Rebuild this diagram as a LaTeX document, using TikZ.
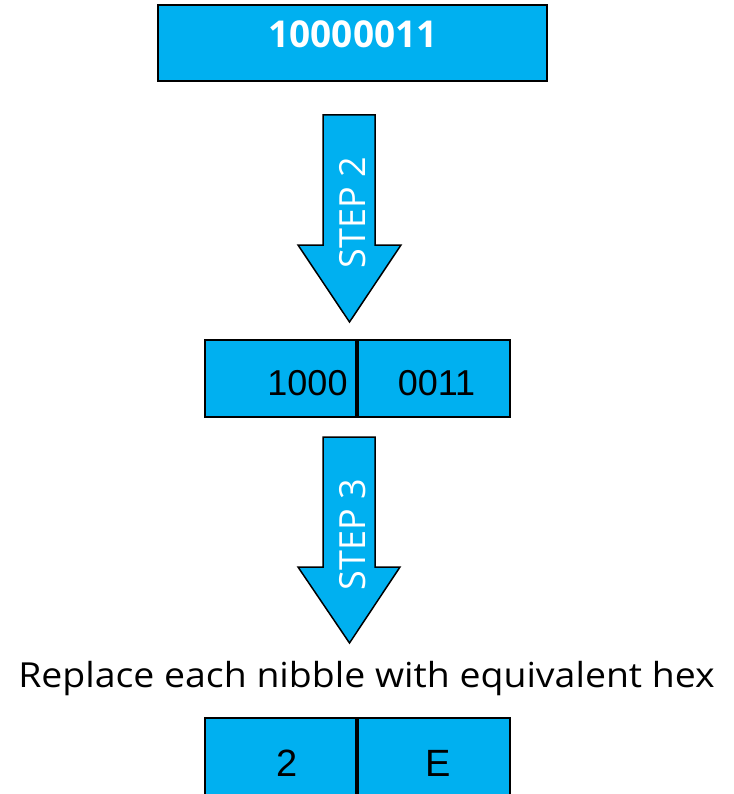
\documentclass[tikz,border=0pt]{standalone}
\usepackage{fontspec}
\setmainfont{Open Sans}
\newfontfamily\arialfont{Liberation Sans}
\usepackage{tikz}
\usetikzlibrary{positioning}
\definecolor{nibblue}{HTML}{00B0F0}
\tikzstyle{cell}=[rectangle, draw=black, fill=nibblue, line width=1.8pt, inner sep=0pt, minimum height=77pt]
\tikzstyle{digits}=[inner sep=0pt, anchor=base, font=\arialfont\fontsize{36}{40}\selectfont]
\tikzstyle{steparrow}=[draw=black, fill=nibblue, line width=1.5pt, line join=miter]
\tikzstyle{steplabel}=[rotate=90, inner sep=0pt, anchor=base, text=white, font=\fontsize{36}{40}\selectfont]

\begin{document}
\begin{tikzpicture}[x=1pt, y=-1pt]
\useasboundingbox (0,0) rectangle (733,794);
%
  \node[cell, line width=2.6pt, minimum width=389pt, minimum height=76pt] (byte) at (352.5,43) {};
  \node[inner sep=0pt, anchor=base, text=white, font=\bfseries\fontsize{37}{40}\selectfont] (bytetxt) at (353,48) {10000011};
%
  \draw[steparrow] (323,115) -- (375,115) -- (375,245) -- (401,245) -- (349.5,322) -- (298,245) -- (323,245) -- cycle;
  \node[steplabel] (step2) at (365,212.5) {STEP 2};
%
  \node[cell, minimum width=151pt] (hi) at (280.5,378.5) {};
  \node[cell, minimum width=152pt] (lo) [right=0pt of hi] {};
  \node[digits] (hitxt) at (307.5,395) {1000};
  \node[digits] (lotxt) at (436.5,395) {0011};
%
  \draw[steparrow] (323,437) -- (375,437) -- (375,567) -- (400,567) -- (349.5,643) -- (298,567) -- (323,567) -- cycle;
  \node[steplabel] (step3) at (365,535) {STEP 3};
%
  \node[inner sep=0pt, anchor=base, xscale=1.085, font=\fontsize{34.5}{40}\selectfont] (rule) at (366.5,687) {Replace each nibble with equivalent hex};
%
  \node[cell, minimum width=151pt, minimum height=84pt] (hexhi) at (280.5,760) {};
  \node[cell, minimum width=152pt, minimum height=84pt] (hexlo) [right=0pt of hexhi] {};
  \node[digits, font=\arialfont\fontsize{38}{40}\selectfont] (hexhitxt) at (287,776) {2};
  \node[digits, font=\arialfont\fontsize{38}{40}\selectfont] (hexlotxt) at (438,776) {E};
%
\end{tikzpicture}
\end{document}
